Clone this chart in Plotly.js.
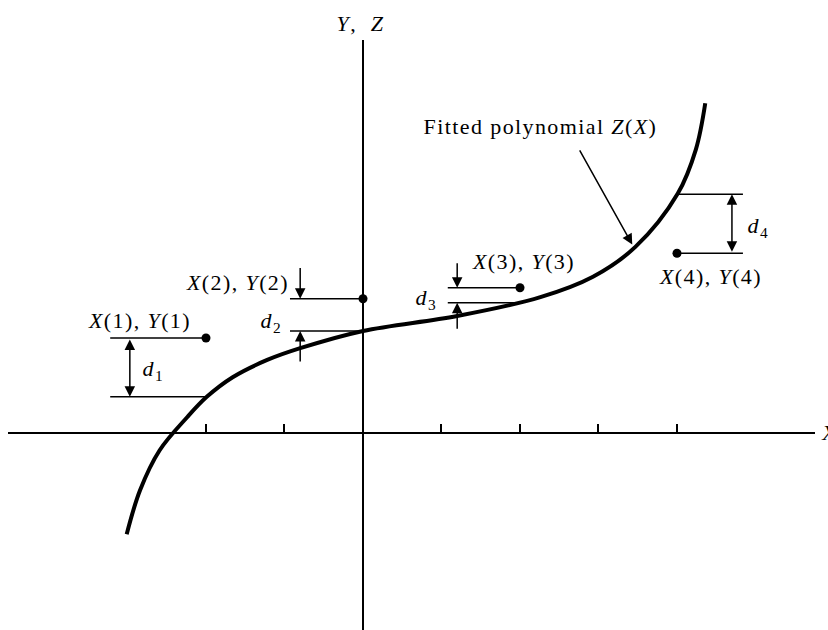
<!DOCTYPE html>
<html>
<head>
<meta charset="utf-8">
<script src="https://cdn.plot.ly/plotly-3.0.1.min.js"></script>
<style>
  html, body { margin: 0; padding: 0; background: #fff; }
  #plot { width: 828px; height: 630px; }
  #plot .annotation-text-g text { letter-spacing: 1.4px; }
</style>
</head>
<body>
<div id="plot"></div>
<script>
// Fitted curve Z(X) (x in tick units, y on the same scale)
const CURVE_X = [-3.01, -2.84, -2.59, -2.24, -1.99, -1.66, -1.22, -0.80, 0.0, 1.20, 2.26, 2.93, 3.47, 4.01, 4.24, 4.36];
const CURVE_Y = [-1.29, -0.73, -0.22, 0.20, 0.46, 0.71, 0.93, 1.08, 1.30, 1.49, 1.73, 1.99, 2.37, 3.05, 3.61, 4.20];

// Data points X(i), Y(i) and the fitted value Z at each X(i)
const POINT_X = [-2, 0, 2, 4];
const POINT_Y = [1.21, 1.71, 1.85, 2.29];
const FIT_Z = [0.46, 1.30, 1.66, 3.04];

// Leader lines and the d(i) arrows
const LEADER_FROM = [-3.22, -0.93, 1.08, 4.0];
const LEADER_TO = [-2, 0, 2, 4.84];
const ARROW_X = [-2.97, -0.80, 1.20, 4.70];
const ARROW_KIND = ["inner", "outer", "outer", "inner"];
const OUTER_TOP = [null, 2.12, 2.18, null];
const OUTER_BOTTOM = [null, 0.89, 1.31, null];

// Labels
const POINT_LABELS = [
  "<i>X</i>(1), <i>Y</i>(1)",
  "<i>X</i>(2), <i>Y</i>(2)",
  "<i>X</i>(3), <i>Y</i>(3)",
  "<i>X</i>(4), <i>Y</i>(4)",
];
const POINT_LABEL_X = [-2.85, -1.60, 2.05, 4.43];
const POINT_LABEL_Y = [1.43, 1.92, 2.18, 1.99];
const D_LABELS = ["<i>d</i><sub>1</sub>", "<i>d</i><sub>2</sub>", "<i>d</i><sub>3</sub>", "<i>d</i><sub>4</sub>"];
const D_LABEL_X = [-2.82, -1.31, 0.66, 4.89];
const D_LABEL_Y = [0.80, 1.42, 1.71, 2.62];
const FIT_LABEL = "Fitted polynomial <i>Z</i>(<i>X</i>)";
const FIT_LABEL_POS = [2.26, 3.91];
const FIT_ARROW_TAIL = [2.75, 3.62];
const FIT_ARROW_HEAD = [3.43, 2.40];
const X_TICKS = [-2, -1, 1, 2, 3, 4];

const FONT = { family: "Liberation Serif, Times New Roman, serif", size: 22, color: "#000" };
const INK = "#000";

function leaderShapes() {
  const shapes = [];
  POINT_X.forEach((px, i) => {
    [POINT_Y[i], FIT_Z[i]].forEach((level) => {
      shapes.push({
        type: "line", xref: "x", yref: "y",
        x0: LEADER_FROM[i], x1: LEADER_TO[i], y0: level, y1: level,
        line: { color: INK, width: 1.5 },
      });
    });
  });
  return shapes;
}

function arrow(x, y, ax, ay, both) {
  const a = {
    xref: "x", yref: "y", axref: "x", ayref: "y",
    x, y, ax, ay, text: "", showarrow: true,
    arrowhead: 2, arrowsize: 1.4, arrowwidth: 1.5, arrowcolor: INK,
  };
  if (both) {
    a.arrowside = "end+start";
    a.startarrowhead = 2;
    a.startarrowsize = 1.4;
  }
  return a;
}

function dArrows() {
  const out = [];
  ARROW_X.forEach((x, i) => {
    if (ARROW_KIND[i] === "inner") {
      out.push(arrow(x, FIT_Z[i], x, POINT_Y[i], true));
    } else {
      out.push(arrow(x, POINT_Y[i], x, OUTER_TOP[i], false));
      out.push(arrow(x, FIT_Z[i], x, OUTER_BOTTOM[i], false));
    }
  });
  return out;
}

function textLabels() {
  const labels = POINT_LABELS.map((text, i) => ({
    xref: "x", yref: "y", x: POINT_LABEL_X[i], y: POINT_LABEL_Y[i],
    text, showarrow: false, xanchor: "center", yanchor: "middle", font: FONT,
  }));
  D_LABELS.forEach((text, i) => {
    labels.push({
      xref: "x", yref: "y", x: D_LABEL_X[i], y: D_LABEL_Y[i],
      text, showarrow: false, xanchor: "left", yanchor: "middle", font: FONT,
    });
  });
  labels.push({
    xref: "x", yref: "y", x: FIT_LABEL_POS[0], y: FIT_LABEL_POS[1],
    text: FIT_LABEL, showarrow: false, xanchor: "center", yanchor: "middle", font: FONT,
  });
  labels.push(arrow(FIT_ARROW_HEAD[0], FIT_ARROW_HEAD[1], FIT_ARROW_TAIL[0], FIT_ARROW_TAIL[1], false));
  // axis names
  labels.push({
    xref: "x", yref: "paper", x: -0.03, y: 0.963,
    text: "<i>Y</i>,  <i>Z</i>", showarrow: false, xanchor: "center", yanchor: "middle", font: FONT,
  });
  labels.push({
    xref: "paper", yref: "y", x: 0.99, y: 0,
    text: "<i>X</i>", showarrow: false, xanchor: "left", yanchor: "middle", font: FONT,
  });
  return labels;
}

const curveTrace = {
  type: "scatter", mode: "lines",
  x: CURVE_X, y: CURVE_Y,
  line: { color: INK, width: 4, shape: "spline", smoothing: 1 },
  hoverinfo: "skip", showlegend: false,
};

const pointTrace = {
  type: "scatter", mode: "markers",
  x: POINT_X, y: POINT_Y,
  marker: { color: INK, size: 9 },
  hoverinfo: "skip", showlegend: false,
};

const layout = {
  width: 828, height: 630,
  margin: { l: 0, r: 0, t: 0, b: 0 },
  paper_bgcolor: "#fff", plot_bgcolor: "#fff",
  showlegend: false,
  xaxis: {
    domain: [8 / 828, 815 / 828],
    range: [-4.522, 5.758],
    anchor: "free", position: 197 / 630,
    showline: true, linecolor: INK, linewidth: 2,
    showgrid: false, zeroline: false,
    ticks: "inside", ticklen: 8, tickwidth: 2, tickcolor: INK,
    tickvals: X_TICKS, showticklabels: false,
  },
  yaxis: {
    domain: [0, 590 / 630],
    range: [-2.51, 5.006],
    anchor: "free", position: 363 / 828,
    showline: true, linecolor: INK, linewidth: 2,
    showgrid: false, zeroline: false,
    ticks: "", showticklabels: false,
  },
  shapes: leaderShapes(),
  annotations: [...dArrows(), ...textLabels()],
};

Plotly.newPlot("plot", [curveTrace, pointTrace], layout, { staticPlot: true, displayModeBar: false });
</script>
</body>
</html>
